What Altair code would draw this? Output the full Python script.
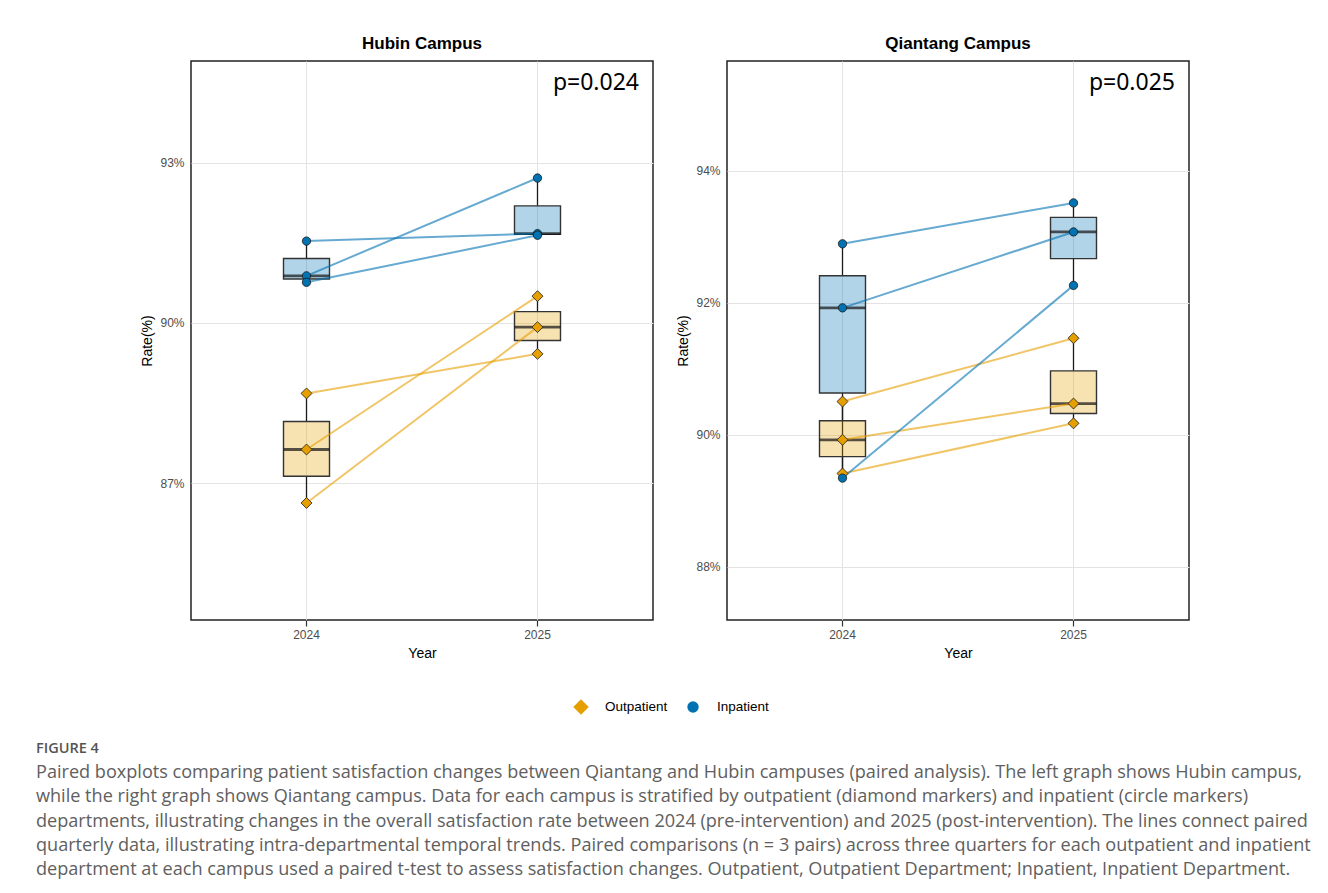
import altair as alt
import pandas as pd

# ---------------- data ----------------
years = ["2024", "2025"]
depts = ["Outpatient", "Inpatient"]
campuses = ["Hubin Campus", "Qiantang Campus"]
p_values = ["p=0.024", "p=0.025"]

# paired quarterly values (same index = same pair)
hubin_out_2024 = [88.68, 87.63, 86.63]
hubin_out_2025 = [89.42, 90.50, 89.92]
hubin_in_2024 = [91.53, 90.88, 90.76]
hubin_in_2025 = [91.67, 92.71, 91.64]
qiantang_out_2024 = [90.50, 89.92, 89.41]
qiantang_out_2025 = [91.46, 90.47, 90.17]
qiantang_in_2024 = [92.89, 91.92, 89.34]
qiantang_in_2025 = [93.51, 93.07, 92.26]

hubin_domain = [84.44, 94.9]
qiantang_domain = [87.19, 95.66]
hubin_ticks = [87, 90, 93]
qiantang_ticks = [88, 90, 92, 94]

dept_colors = ["#E69F00", "#0072B2"]
dept_shapes = ["diamond", "circle"]

figure_label = "FIGURE 4"
caption_lines = [
    "Paired boxplots comparing patient satisfaction changes between Qiantang and Hubin campuses (paired analysis). The left graph shows Hubin campus,",
    "while the right graph shows Qiantang campus. Data for each campus is stratified by outpatient (diamond markers) and inpatient (circle markers)",
    "departments, illustrating changes in the overall satisfaction rate between 2024 (pre-intervention) and 2025 (post-intervention). The lines connect paired",
    "quarterly data, illustrating intra-departmental temporal trends. Paired comparisons (n = 3 pairs) across three quarters for each outpatient and inpatient",
    "department at each campus used a paired t-test to assess satisfaction changes. Outpatient, Outpatient Department; Inpatient, Inpatient Department.",
]

series = {
    ("Hubin Campus", "Outpatient"): (hubin_out_2024, hubin_out_2025),
    ("Hubin Campus", "Inpatient"): (hubin_in_2024, hubin_in_2025),
    ("Qiantang Campus", "Outpatient"): (qiantang_out_2024, qiantang_out_2025),
    ("Qiantang Campus", "Inpatient"): (qiantang_in_2024, qiantang_in_2025),
}
rows = []
for (campus, dept), (v24, v25) in series.items():
    for i, (a, b) in enumerate(zip(v24, v25)):
        rows.append({"campus": campus, "dept": dept, "year": years[0], "pair": f"{dept}{i}", "rate": a})
        rows.append({"campus": campus, "dept": dept, "year": years[1], "pair": f"{dept}{i}", "rate": b})
df = pd.DataFrame(rows)

W, H = 462, 559
GRID = "#E3E3E3"


def panel(campus, domain, ticks, ptext):
    d = df[df["campus"] == campus]
    base = alt.Chart(d)
    x = alt.X(
        "year:N",
        scale=alt.Scale(domain=years, paddingInner=0.8, paddingOuter=0.4),
        axis=alt.Axis(
            title="Year", labelAngle=0, domain=False, ticks=True, tickSize=6,
            tickColor="#333333", tickWidth=1.2, grid=True, gridColor=GRID,
            labelColor="#4D4D4D", labelFontSize=12, labelPadding=3,
            titleFontSize=14, titleFontWeight="normal", titlePadding=6,
            titleColor="#000000",
        ),
    )
    y = alt.Y(
        "rate:Q",
        scale=alt.Scale(domain=domain, nice=False, zero=False),
        axis=alt.Axis(
            values=ticks, labelExpr="datum.value + '%'", title="Rate(%)",
            domain=False, ticks=False, grid=True, gridColor=GRID,
            labelColor="#4D4D4D", labelFontSize=12, labelPadding=7,
            titleFontSize=14, titleFontWeight="normal", titlePadding=5,
            titleColor="#000000",
        ),
    )
    color = alt.Color("dept:N", scale=alt.Scale(domain=depts, range=dept_colors), legend=None)
    box = base.mark_boxplot(
        extent="min-max", size=46,
        box={"fillOpacity": 0.3, "stroke": "#333333", "strokeWidth": 1.4},
        median={"color": "#111111", "thickness": 2.8},
        rule={"color": "#1a1a1a", "strokeWidth": 1.3},
    ).encode(x=x, y=y, color=color)
    lines = base.mark_line(strokeWidth=2, opacity=0.6).encode(
        x=x, y=y, color=color, detail="pair:N"
    )
    pts = base.mark_point(filled=True, opacity=1, stroke="#1a1a1a", strokeWidth=0.8).encode(
        x=x, y=y, color=color,
        shape=alt.Shape("dept:N", scale=alt.Scale(domain=depts, range=dept_shapes), legend=None),
        size=alt.Size("dept:N", scale=alt.Scale(domain=depts, range=[120, 70]), legend=None),
    )
    ptxt = alt.Chart(pd.DataFrame({"p": [ptext]})).mark_text(
        align="right", baseline="middle", fontSize=23, font="Noto Sans", color="#000000"
    ).encode(text="p:N", x=alt.value(W - 14), y=alt.value(22))
    return alt.layer(box, lines, pts, ptxt).properties(
        width=W, height=H,
        title=alt.TitleParams(campus, fontSize=17, fontWeight="bold", font="Liberation Sans",
                              color="#000000", offset=8),
        view=alt.ViewBackground(stroke="#222222", strokeWidth=1.5),
    )


# invisible spacer that sets the left margin of the panel row
spacer = alt.Chart(pd.DataFrame({"v": [0]})).mark_point(opacity=0).properties(
    width=82, height=20, view=alt.ViewBackground(stroke=None)
)
left = panel(campuses[0], hubin_domain, hubin_ticks, p_values[0])
right = panel(campuses[1], qiantang_domain, qiantang_ticks, p_values[1])
panels = alt.hconcat(spacer, left, right, spacing=22)

# ---------------- custom legend ----------------
leg_df = pd.DataFrame({"dept": depts})
leg_x = alt.X("dept:N", scale=alt.Scale(domain=depts, range=[545, 657], padding=0), axis=None)
leg_layers = []
for i, dname in enumerate(depts):
    leg_layers.append(
        alt.Chart(leg_df).transform_filter(alt.datum.dept == dname).mark_point(
            filled=True, opacity=1, shape=dept_shapes[i], size=[240, 130][i], color=dept_colors[i]
        ).encode(x=leg_x)
    )
leg_text = alt.Chart(leg_df).mark_text(
    align="left", baseline="middle", dx=24, fontSize=13.5, color="#000000", font="Liberation Sans"
).encode(x=leg_x, text="dept:N")
legend = alt.layer(*leg_layers, leg_text).properties(
    width=800, height=59, view=alt.ViewBackground(stroke=None)
)

# ---------------- caption ----------------
cap_df = pd.DataFrame({
    "row": list(range(len(caption_lines) + 1)),
    "text": [figure_label] + caption_lines,
    "kind": ["head"] + ["body"] * len(caption_lines),
})
cap_y = alt.Y("row:O", scale=alt.Scale(paddingInner=0, paddingOuter=0), axis=None)
cap_head = alt.Chart(cap_df).transform_filter(alt.datum.kind == "head").mark_text(
    align="left", baseline="middle", font="Open Sans", fontSize=14.5, fontWeight=600, color="#555555"
).encode(x=alt.value(0), y=cap_y, text="text:N")
cap_body = alt.Chart(cap_df).transform_filter(alt.datum.kind == "body").mark_text(
    align="left", baseline="middle", font="Open Sans", fontSize=18.1, color="#606060"
).encode(x=alt.value(0), y=cap_y, text="text:N")
caption = alt.layer(cap_head, cap_body).properties(
    width=1200, height=24.3 * (len(caption_lines) + 1), view=alt.ViewBackground(stroke=None)
)

bottom = alt.vconcat(legend, caption, spacing=0)

chart = alt.vconcat(panels, bottom, spacing=16.5).properties(
    padding={"left": 28, "top": 26, "right": 0, "bottom": 0}
).configure(font="Liberation Sans").configure_view(stroke=None)

chart.save("out.html", embed_options={"renderer": "svg", "actions": False})
